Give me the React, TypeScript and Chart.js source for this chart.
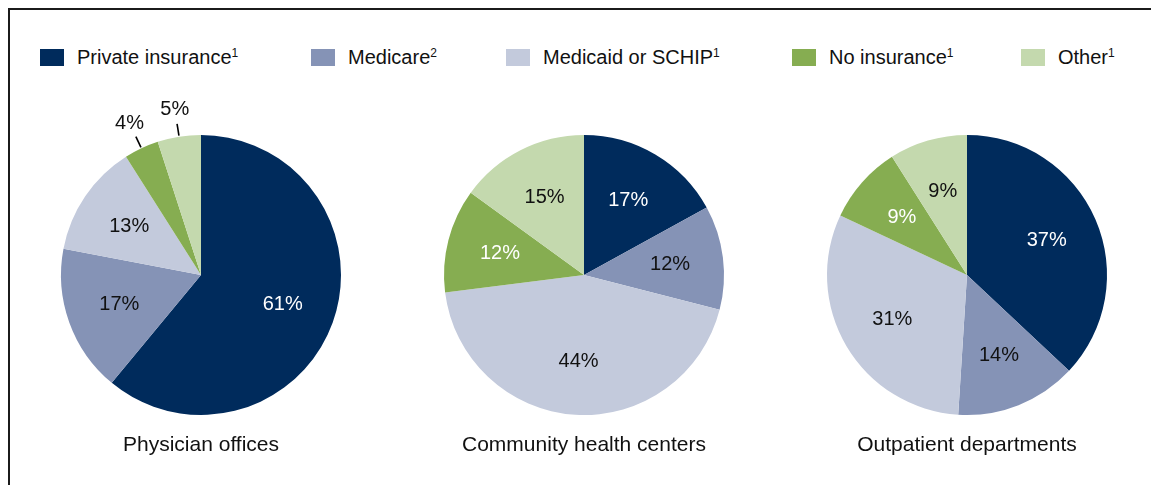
import React, { useEffect, useRef } from 'react';
import { Chart, registerables } from 'chart.js';

Chart.register(...registerables);

const categories = ['Private insurance', 'Medicare', 'Medicaid or SCHIP', 'No insurance', 'Other'];
const footnotes = ['1', '2', '1', '1', '1'];
const sliceColors = ['#002B5C', '#8593B6', '#C3CADC', '#86AD51', '#C4D9AE'];
const valueLabelColors = ['#ffffff', '#111111', '#111111', '#ffffff', '#111111'];

const settings = ['Physician offices', 'Community health centers', 'Outpatient departments'];
const physicianOffices = [61, 17, 13, 4, 5];
const communityHealthCenters = [17, 12, 44, 12, 15];
const outpatientDepartments = [37, 14, 31, 9, 9];
const seriesValues = [physicianOffices, communityHealthCenters, outpatientDepartments];
const outsideLabels = [
  [false, false, false, true, true],
  [false, false, false, false, false],
  [false, false, false, false, false],
];

const FONT = '"Liberation Sans", Arial, Helvetica, sans-serif';

const sliceLabelPlugin = {
  id: 'sliceLabels',
  afterDatasetsDraw(chart: any, _args: any, opts: any) {
    const ctx = chart.ctx;
    const meta = chart.getDatasetMeta(0);
    const data = chart.data.datasets[0].data;
    const outside: boolean[] = opts.outside || [];
    ctx.save();
    ctx.font = `20px ${FONT}`;
    ctx.textAlign = 'center';
    ctx.textBaseline = 'middle';
    let cx = 0;
    let cy = 0;
    let R = 0;
    meta.data.forEach((arc: any, i: number) => {
      const p = arc.getProps(['x', 'y', 'startAngle', 'endAngle', 'outerRadius'], true);
      cx = p.x;
      cy = p.y;
      R = p.outerRadius;
      const mid = (p.startAngle + p.endAngle) / 2;
      const c = Math.cos(mid);
      const s = Math.sin(mid);
      const txt = `${data[i]}%`;
      if (outside[i]) {
        ctx.strokeStyle = '#000';
        ctx.lineWidth = 1.6;
        ctx.beginPath();
        ctx.moveTo(p.x + c * (p.outerRadius + 1), p.y + s * (p.outerRadius + 1));
        ctx.lineTo(p.x + c * (p.outerRadius + 13), p.y + s * (p.outerRadius + 13));
        ctx.stroke();
        ctx.fillStyle = '#111111';
        ctx.fillText(txt, p.x + c * (p.outerRadius + 28), p.y + s * (p.outerRadius + 28));
      } else {
        const r = p.outerRadius * 0.62;
        ctx.fillStyle = valueLabelColors[i];
        ctx.fillText(txt, p.x + c * r, p.y + s * r);
      }
    });
    ctx.font = `21px ${FONT}`;
    ctx.fillStyle = '#111111';
    ctx.textBaseline = 'alphabetic';
    ctx.fillText(opts.title, cx, cy + R + 36);
    ctx.restore();
  },
};

function PieCanvas({ idx, left }: { idx: number; left: number }) {
  const ref = useRef<HTMLCanvasElement | null>(null);
  useEffect(() => {
    if (!ref.current) return;
    const chart = new Chart(ref.current, {
      type: 'pie',
      data: {
        labels: categories,
        datasets: [
          {
            data: seriesValues[idx],
            backgroundColor: sliceColors,
            borderWidth: 0,
          },
        ],
      },
      options: {
        responsive: false,
        animation: false,
        layout: { padding: 50 },
        plugins: {
          legend: { display: false },
          tooltip: { enabled: false },
          sliceLabels: { outside: outsideLabels[idx], title: settings[idx] },
        } as any,
      },
      plugins: [sliceLabelPlugin],
    });
    return () => chart.destroy();
  }, [idx]);
  return (
    <canvas
      ref={ref}
      width={380}
      height={380}
      style={{ position: 'absolute', left, top: 75, width: 380, height: 380 }}
    />
  );
}

const legendLefts = [30, 301, 496, 782, 1011];

export default function App() {
  return (
    <div
      style={{
        position: 'fixed',
        left: 8,
        top: 8,
        width: 1143,
        height: 477,
        borderTop: '2px solid #1b1b1b',
        borderLeft: '2px solid #1b1b1b',
        overflow: 'hidden',
        background: '#fff',
        fontFamily: FONT,
        color: '#111',
      }}
    >
      {categories.map((cat, i) => (
        <div
          key={cat}
          style={{
            position: 'absolute',
            left: legendLefts[i],
            top: 36,
            height: 23,
            display: 'flex',
            alignItems: 'center',
            whiteSpace: 'nowrap',
          }}
        >
          <span
            style={{
              display: 'inline-block',
              width: 24,
              height: 17,
              background: sliceColors[i],
              marginRight: 13,
            }}
          />
          <span style={{ fontSize: 20, lineHeight: '23px' }}>
            {cat}
            <sup style={{ fontSize: 12, verticalAlign: 'top', lineHeight: '12px', position: 'relative', top: 1 }}>
              {footnotes[i]}
            </sup>
          </span>
        </div>
      ))}
      <PieCanvas idx={0} left={1} />
      <PieCanvas idx={1} left={384} />
      <PieCanvas idx={2} left={767} />
    </div>
  );
}
